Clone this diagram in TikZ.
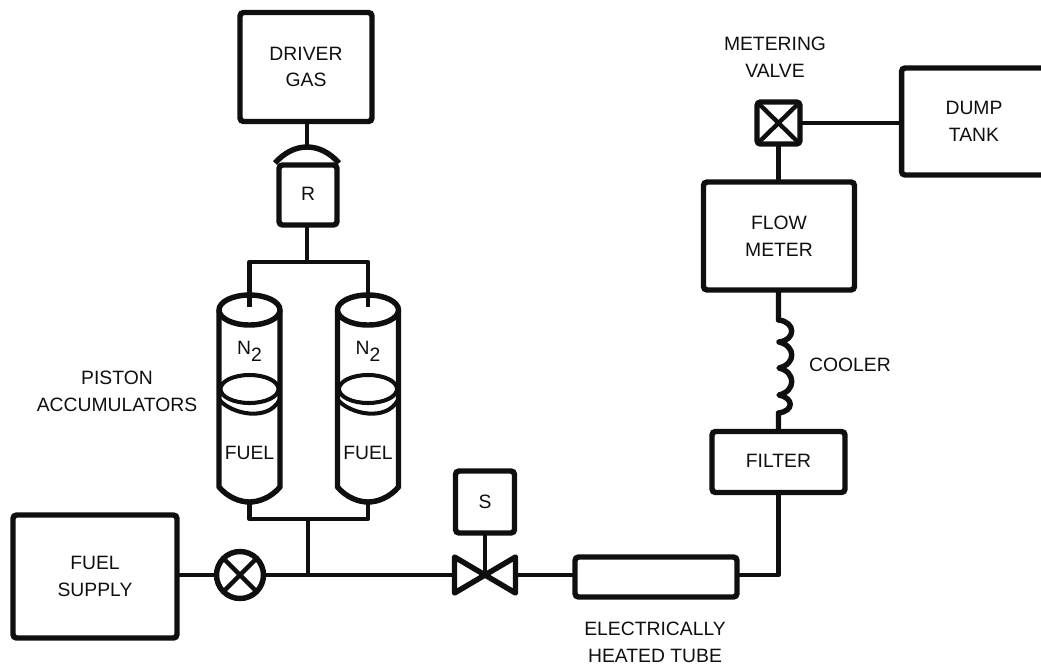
\documentclass[tikz,border=0pt]{standalone}
\usepackage{fontspec}
\setmainfont{Liberation Sans}
\usepackage{tikz}
\usetikzlibrary{positioning}
\definecolor{inkblack}{RGB}{15, 15, 15}

\begin{document}
\begin{tikzpicture}[
      x=0.02cm, y=-0.02cm,
      every node/.style={font=\fontsize{11}{15.2}\selectfont, text=inkblack, align=center},
      box/.style={draw=inkblack, line width=3.1pt, rounded corners=2pt, inner sep=0pt, outer sep=0pt},
      wall/.style={draw=inkblack, line width=3.1pt, line join=round},
      thinwall/.style={draw=inkblack, line width=2.3pt},
      pipe/.style={draw=inkblack, line width=2.5pt, line join=round},
    ]
    \useasboundingbox (0,0) rectangle (1041,670);
    \node[box, minimum width=2.64cm, minimum height=2.18cm] (driver) at (306,67) {DRIVER\\GAS};
    \node[box, minimum width=1.16cm, minimum height=1.2cm] (reg) at (308,195) {\raisebox{1.5pt}{R}};
    \node[box, minimum width=3.28cm, minimum height=2.46cm] (supply) at (95,576.5) {FUEL\\SUPPLY};
    \node[draw=inkblack, line width=3.1pt, circle, minimum size=0.94cm, inner sep=0pt, outer sep=0pt] (ballvalve) at (240,575) {};
    \node[minimum width=1.22cm, minimum height=0.72cm, inner sep=0pt, outer sep=0pt] (solvalve) at (485,575) {};
    \node[box, minimum width=1.18cm, minimum height=1.24cm] (solenoid) at (485,502) {S};
    \node[box, minimum width=3.24cm, minimum height=0.8cm] (tube) at (656,577) {};
    \node[box, minimum width=2.66cm, minimum height=1.22cm] (filter) at (778.5,462) {\raisebox{1pt}{FILTER}};
    \node[box, minimum width=3.02cm, minimum height=2.16cm] (flowmeter) at (779,236) {FLOW\\METER};
    \node[box, minimum width=0.86cm, minimum height=0.84cm] (meterv) at (778.5,123) {};
    \node[box, minimum width=2.9cm, minimum height=2.14cm] (dump) at (974,121.5) {DUMP\\TANK};
    % Labels
    \node (pistonlbl) at (117,391) {PISTON\\ACCUMULATORS};
    \node (elecllbl) at (655,642) {ELECTRICALLY\\HEATED TUBE};
    \node (coolerlbl) at (850,365) {COOLER};
    \node (meterlbl) at (775,57) {METERING\\VALVE};
    % Accumulators
    \foreach \cyl/\cx in {a/249.5, b/368} {
      \draw[wall] (\cx-30.5,310) -- (\cx-30.5,487) .. controls (\cx-22,497) and (\cx-10,502) .. (\cx,502)
        .. controls (\cx+10,502) and (\cx+22,497) .. (\cx+30.5,487) -- (\cx+30.5,310);
      \draw[wall] (\cx,310) ellipse [x radius=30.5, y radius=15];
      \draw[thinwall] (\cx,389) ellipse [x radius=29, y radius=14];
      \draw[thinwall] (\cx-30,400) .. controls (\cx-18,414) and (\cx+18,422) .. (\cx+30,400);
      \node (gas\cyl) at (\cx,351) {N\raisebox{-4pt}{2}};
      \node (fuel\cyl) at (\cx,453) {FUEL};
      \coordinate (top\cyl) at (\cx,307);
      \coordinate (bot\cyl) at (\cx,502);
    }
    % Regulator dome
    \coordinate (dome) at (307,147);
    \draw[wall] (275,163) .. controls (284,153) and (295,147) .. (dome) .. controls (319,147) and (330,153) .. (339,163);
    % Valve symbols
    \draw[wall] (solvalve.north west) -- (solvalve.south east) -- (solvalve.north east) -- (solvalve.south west) -- cycle;
    \draw[pipe] (ballvalve.north west) -- (ballvalve.south east);
    \draw[pipe] (ballvalve.north east) -- (ballvalve.south west);
    \draw[pipe] (meterv.north west) -- (meterv.south east);
    \draw[pipe] (meterv.north east) -- (meterv.south west);
    % Pipes
    \coordinate (upper) at (307,262);
    \coordinate (lower) at (308,519);
    \draw[pipe] (driver.south -| dome) -- (dome);
    \draw[pipe] (reg.south -| upper) -- (upper);
    \draw[pipe] (topa) -- (topa |- upper) -- (topb |- upper) -- (topb);
    \draw[pipe] (bota) -- (bota |- lower) -- (botb |- lower) -- (botb);
    \draw[pipe] (lower) -- (lower |- ballvalve);
    \draw[pipe] (supply.east |- ballvalve) -- (ballvalve);
    \draw[pipe] (ballvalve) -- (solvalve.west);
    \draw[pipe] (solenoid.south) -- (solvalve.center);
    \draw[pipe] (solvalve.east) -- (tube.west |- solvalve);
    \draw[pipe] (tube.east |- solvalve) -| (filter.south);
    \draw[pipe] (meterv.south) -- (meterv.south |- flowmeter.north);
    \draw[pipe] (meterv.east) -- (dump.west |- meterv);
    % Cooler coil
    \draw[wall] (flowmeter.south -| filter) -- (778.5,320)
      .. controls (796,322) and (796,340) .. (779,342)
      .. controls (796,346) and (796,364) .. (779,368)
      .. controls (796,372) and (796,391) .. (779,395)
      .. controls (794,398) and (794,411) .. (778.5,413) -- (filter.north);
  \end{tikzpicture}
\end{document}
